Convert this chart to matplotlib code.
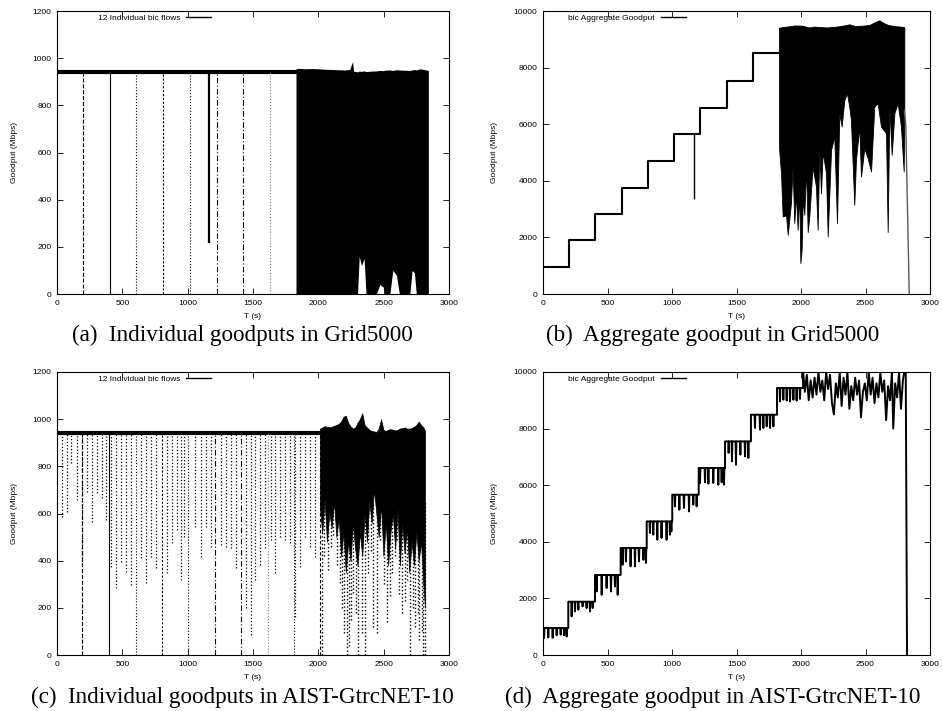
import matplotlib
matplotlib.use('Agg')
import matplotlib.pyplot as plt

plt.rcParams['font.family'] = ['Liberation Sans', 'DejaVu Sans']

# ---------------- data ----------------
# (a) Individual goodputs, Grid5000
a_base_t = [0, 1829]
a_base_v = [942, 942]
a_start_t = [196, 403, 605, 811, 1015, 1222, 1423, 1627]
a_start_top = 940
a_deep_t = [1166]
a_deep_v = [217]
a_dense_t = [1829, 1850, 1900, 1950, 2000, 2050, 2100, 2150, 2200, 2240, 2255, 2262, 2270,
             2300, 2313, 2330, 2350, 2365, 2400, 2445, 2470, 2496, 2510, 2547, 2570, 2598,
             2620, 2650, 2700, 2718, 2735, 2750, 2780, 2842]
a_dense_hi = [955, 957, 955, 956, 955, 953, 952, 951, 950, 952, 975, 985, 945,
              942, 945, 944, 946, 943, 945, 946, 948, 947, 949, 950, 948, 951,
              950, 949, 948, 950, 952, 950, 955, 948]
a_dense_lo = [0, 0, 0, 0, 0, 0, 0, 0, 0, 0, 0, 0, 0,
              0, 160, 120, 150, 0, 0, 0, 40, 30, 0, 0, 100, 80,
              0, 0, 0, 100, 90, 0, 0, 0]

# (b) Aggregate goodput, Grid5000
b_step_t = [0, 199, 405, 610, 811, 1018, 1219, 1426, 1630, 1829]
b_step_v = [939, 1892, 2824, 3763, 4705, 5658, 6588, 7541, 8506, 8506]
b_dip_t = [1168]
b_dip_v = [3364]
b_lo_t = [1829, 1845, 1858, 1884, 1897, 1922, 1935, 1948, 1961, 1974, 1987, 1995, 2005,
          2013, 2026, 2039, 2052, 2065, 2090, 2116, 2129, 2142, 2155, 2168, 2194, 2207,
          2233, 2258, 2279, 2297, 2315, 2336, 2356, 2374, 2387, 2413, 2426, 2452, 2465,
          2491, 2517, 2543, 2568, 2594, 2620, 2659, 2672, 2685, 2703, 2724, 2749, 2775,
          2796, 2801]
b_lo_v = [5200, 4271, 2740, 2780, 2093, 3212, 4504, 2505, 3505, 2270, 3565, 1094, 1564,
          3330, 2800, 4500, 2190, 2800, 4500, 3800, 2270, 5140, 3560, 5020, 4270, 2033,
          5093, 5565, 2505, 6388, 5918, 6858, 7094, 6624, 6152, 3152, 4740, 5918, 4151,
          5152, 4799, 4328, 6624, 6742, 5918, 5682, 2190, 6624, 4917, 6388, 6742, 5918,
          4328, 6500]
b_hi_t = [1832, 1870, 1910, 1950, 2011, 2060, 2100, 2140, 2200, 2270, 2320, 2374, 2420,
          2477, 2529, 2580, 2606, 2645, 2680, 2710, 2740, 2774, 2800]
b_hi_v = [9411, 9440, 9460, 9490, 9482, 9420, 9450, 9435, 9420, 9447, 9480, 9529, 9470,
          9482, 9506, 9623, 9670, 9565, 9500, 9482, 9460, 9447, 9435]
b_tail_t = [2801, 2812, 2839]
b_tail_v = [6500, 6000, 0]

# (c) Individual goodputs, AIST-GtrcNET-10
c_base_t = [0, 2013]
c_base_v = [943, 943]
c_start_t = [194, 398, 605, 801, 1000, 1207, 1410, 1614, 1816, 2013]
c_start_top = 940
c_dip_t = [36, 74, 107, 150, 189, 230, 266, 304, 342, 373,
           413, 451, 490, 528, 566,
           643, 681, 719, 758,
           840, 878, 916, 949, 975,
           1056, 1102, 1140, 1176,
           1255, 1291, 1329, 1370,
           1444, 1482, 1515, 1553, 1592,
           1635, 1668, 1706, 1745, 1783, 1821,
           1860, 1898, 1936, 1974]
c_dip_v = [586, 608, 813, 657, 382, 692, 565, 686, 664, 572,
           374, 283, 396, 353, 297,
           410, 304, 417, 368,
           346, 473, 530, 318, 502,
           544, 417, 544, 459,
           466, 459, 452, 368,
           198, 85, 318, 382, 452,
           488, 346, 502, 488, 473, 163,
           375, 502, 459, 417]
c_core_t = [2013, 2030, 2048, 2066, 2084, 2102, 2120, 2138, 2156, 2174, 2192, 2210, 2228,
            2246, 2264, 2282, 2300, 2318, 2336, 2354, 2372, 2390, 2408, 2426, 2444, 2462,
            2480, 2498, 2516, 2534, 2552, 2570, 2588, 2606, 2624, 2642, 2660, 2678, 2696,
            2714, 2732, 2750, 2768, 2786, 2804, 2816]
c_core_hi = [960, 965, 970, 968, 966, 968, 972, 975, 980, 990, 1010, 1015, 985,
             970, 960, 965, 985, 1000, 1025, 975, 965, 955, 950, 948, 945, 960,
             1000, 955, 950, 955, 958, 955, 952, 955, 960, 962, 965, 960, 960,
             962, 968, 975, 990, 975, 965, 950]
c_core_lo = [620, 520, 660, 480, 600, 540, 650, 500, 580, 420, 520, 350, 480,
             400, 560, 450, 380, 520, 420, 600, 480, 650, 560, 700, 600, 500,
             640, 420, 560, 380, 520, 600, 450, 620, 380, 560, 430, 540, 350,
             480, 380, 520, 400, 480, 300, 200]
c_spk_t = [2026, 2040, 2077, 2095, 2115, 2140, 2166, 2182, 2199, 2217, 2235, 2252, 2268,
           2290, 2306, 2332, 2357, 2383, 2400, 2421, 2447, 2472, 2505, 2523, 2545, 2561,
           2585, 2600, 2620, 2638, 2660, 2676, 2702, 2725, 2740, 2760, 2773, 2790, 2803,
           2816]
c_spk_v = [0, 420, 360, 460, 509, 380, 304, 200, 92, 0, 37, 150, 261,
           180, 0, 92, 0, 346, 440, 120, 92, 488, 300, 141, 250, 346,
           420, 488, 260, 177, 230, 318, 0, 200, 120, 180, 62, 100, 0,
           0]

# (d) Aggregate goodput, AIST-GtrcNET-10
d_step_t = [0, 196, 403, 602, 804, 1002, 1207, 1411, 1612, 1814, 2016]
d_step_v = [954, 1883, 2827, 3781, 4721, 5664, 6608, 7548, 8491, 9435]
d_dip_t = [8, 41, 75, 106, 137, 163, 183,
           222, 248, 274, 307, 338, 364, 385,
           416, 455, 493, 527, 558, 579,
           617, 643, 679, 713, 744, 778, 798,
           829, 855, 886, 919, 958, 984, 995,
           1023, 1057, 1093, 1132, 1165, 1191,
           1217, 1256, 1282, 1320, 1359, 1385, 1403,
           1439, 1465, 1496, 1530, 1566, 1592,
           1643, 1682, 1708, 1734, 1760, 1786,
           1837, 1863, 1889, 1915, 1941, 1966, 1992]
d_dip_v = [600, 620, 610, 700, 720, 700, 650,
           1364, 1540, 1600, 1717, 1660, 1540, 1660,
           2247, 2130, 2367, 2247, 2424, 2130,
           3191, 3307, 3131, 3131, 3307, 3367, 3250,
           4311, 4251, 4074, 4134, 4074, 4251, 4367,
           5251, 5134, 5194, 5074, 5311, 5251,
           6078, 6100, 6050, 6078, 6018, 6100, 6018,
           7138, 6842, 6724, 7078, 7018, 6961,
           8021, 7961, 8021, 8078, 8021, 8078,
           8961, 9021, 8990, 8961, 9021, 8990, 9050]
d_noise_t = [2016, 2030, 2045, 2060, 2075, 2090, 2105, 2120, 2135, 2150, 2165, 2180, 2195,
             2210, 2225, 2240, 2255, 2270, 2285, 2300, 2315, 2330, 2345, 2360, 2375, 2390,
             2405, 2420, 2435, 2450, 2465, 2480, 2495, 2510, 2525, 2540, 2555, 2570, 2585,
             2600, 2615, 2630, 2645, 2660, 2675, 2690, 2705, 2715, 2730, 2745, 2760, 2775,
             2790, 2800, 2812, 2822]
d_noise_v = [10000, 9300, 9900, 9000, 9700, 9100, 9800, 9200, 10000, 9300, 9700, 9000, 10000,
             9400, 9900, 8900, 8500, 9600, 9100, 10000, 8800, 9800, 9200, 10000, 8700, 9500,
             9000, 9800, 9200, 9700, 8400, 9300, 9600, 9000, 10000, 9200, 9800, 8900, 9600,
             9100, 10000, 9300, 9700, 8300, 9500, 9000, 10000, 8000, 9600, 9100, 10000, 8700,
             9700, 10000, 10000, 0]

captions = ['(a)  Individual goodputs in Grid5000',
            '(b)  Aggregate goodput in Grid5000',
            '(c)  Individual goodputs in AIST-GtrcNET-10',
            '(d)  Aggregate goodput in AIST-GtrcNET-10']
legend_ind = '12 Individual bic flows'
legend_agg = 'bic Aggregate Goodput'

# ---------------- figure ----------------
W, H = 942, 711
fig = plt.figure(figsize=(W / 100, H / 100), dpi=100)


def px_axes(l, r, t, b):
    return fig.add_axes([l / W, 1 - b / H, (r - l) / W, (b - t) / H])


axA = px_axes(57, 449, 11, 294)
axB = px_axes(543, 930, 11, 294)
axC = px_axes(57, 449, 372, 655)
axD = px_axes(543, 930, 372, 655)

start_styles = ['--', '-', ':', (0, (2, 1.5)), ':', (0, (5, 2, 1, 2)), (0, (5, 2, 1, 2)), ':',
                ':', (0, (3, 2))]
start_colors = ['k', 'k', 'k', 'k', 'k', 'k', 'k', '0.5', 'k', 'k']

# (a)
lA, = axA.plot(a_base_t, a_base_v, color='k', lw=3.0, label=legend_ind)
for i, t in enumerate(a_start_t):
    axA.vlines(t, 0, a_start_top, colors=start_colors[i], linestyles=start_styles[i], lw=0.8)
axA.vlines(a_deep_t, a_deep_v, a_start_top, colors='k', lw=1.6)
axA.fill_between(a_dense_t, a_dense_lo, a_dense_hi, color='k', lw=0)

# (b)
lB, = axB.step(b_step_t, b_step_v, where='post', color='k', lw=1.5, label=legend_agg)
axB.vlines(b_dip_t, b_dip_v, b_step_v[5], colors='k', lw=1.0)
axB.fill_between(b_lo_t, b_lo_v, 9400, color='k', lw=0.6, edgecolor='k')
axB.fill_between(b_hi_t, 9300, b_hi_v, color='k', lw=0.6, edgecolor='k')
axB.plot(b_tail_t, b_tail_v, color='0.35', lw=1.0)

# (c)
lC, = axC.plot(c_base_t, c_base_v, color='k', lw=3.0, label=legend_ind)
axC.vlines(c_dip_t, c_dip_v, c_start_top, colors='k', linestyles=':', lw=0.9)
for i, t in enumerate(c_start_t):
    axC.vlines(t, 0, c_start_top, colors=start_colors[i], linestyles=start_styles[i], lw=0.8)
axC.fill_between(c_core_t, c_core_lo, c_core_hi, color='k', lw=0.5, edgecolor='k')
axC.vlines(c_spk_t, c_spk_v, 650, colors='k', linestyles=':', lw=1.0)

# (d)
xs, ys = [], []
for i, lvl in enumerate(d_step_v):
    t0, t1 = d_step_t[i], d_step_t[i + 1]
    xs.append(t0)
    ys.append(lvl)
    for dt, dv in zip(d_dip_t, d_dip_v):
        if t0 <= dt < t1:
            xs += [dt - 3, dt, dt + 3]
            ys += [lvl, dv, lvl]
    xs.append(t1)
    ys.append(lvl)
xs += d_noise_t
ys += d_noise_v
lD, = axD.plot(xs, ys, color='k', lw=1.4, label=legend_agg)

# axes styling
for ax, ymax, ystep, lab_x in [(axA, 1200, 200, -43 / 392), (axB, 10000, 2000, -48 / 387),
                                (axC, 1200, 200, -43 / 392), (axD, 10000, 2000, -48 / 387)]:
    ax.set_xlim(0, 3000)
    ax.set_ylim(0, ymax)
    ax.set_xticks(range(0, 3001, 500))
    ax.set_yticks(range(0, ymax + 1, ystep))
    ax.tick_params(direction='in', top=True, right=True, length=4, width=0.6,
                   labelsize=6, pad=4)
    for s in ax.spines.values():
        s.set_linewidth(0.8)
    ax.set_xlabel('T (s)', fontsize=6)
    ax.set_ylabel('Goodput (Mbps)', fontsize=6)
    ax.xaxis.label.set_va('center')
    ax.yaxis.label.set_va('center')
    ax.xaxis.set_label_coords(0.5, -22.7 / 283)
    ax.yaxis.set_label_coords(lab_x, 0.5)

for ax, h, x0 in [(axA, lA, 0.105), (axC, lC, 0.105), (axB, lB, 0.065), (axD, lD, 0.065)]:
    ax.legend(handles=[h], loc='upper left', bbox_to_anchor=(x0, 0.99), frameon=False,
              markerfirst=False, fontsize=6, handlelength=3.0, handletextpad=0.7,
              borderpad=0, borderaxespad=0)
    ax.get_legend().get_lines()[0].set_linewidth(1.0)

for cap, cx, cy in zip(captions, [242, 713, 242, 713], [335, 335, 697, 697]):
    fig.text(cx / W, 1 - cy / H, cap, ha='center', va='center',
             fontsize=16.7, family=['Liberation Serif', 'DejaVu Serif'])

fig.savefig('out.png', dpi=100)
